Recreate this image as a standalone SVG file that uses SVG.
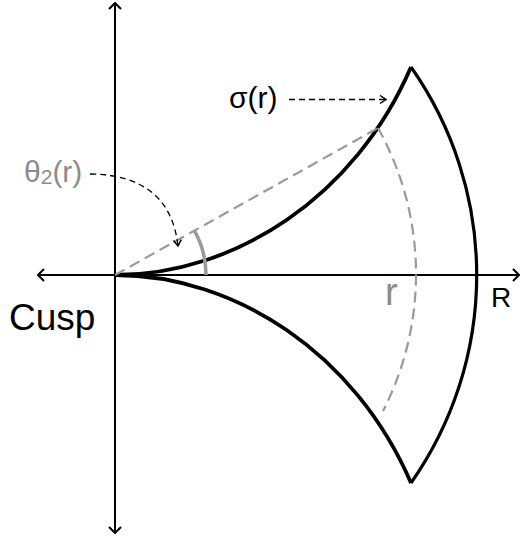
<svg xmlns="http://www.w3.org/2000/svg" width="521" height="537" viewBox="0 0 521 537">
<style>
.axis{stroke:#000;stroke-width:2;fill:none}
.curve{stroke:#000;stroke-width:3.8;fill:none;stroke-linejoin:miter}
.gdash{stroke:#9a9a9a;stroke-width:2.2;fill:none;stroke-dasharray:11 6}
.bdash{stroke:#000;stroke-width:1.3;fill:none;stroke-dasharray:6 4}
.lbl{font-family:"Liberation Sans",Arial,sans-serif;fill:#000}
.glbl{font-family:"Liberation Sans",Arial,sans-serif;fill:#8c8c8c}
</style>
<defs>
<marker id="open" viewBox="0 0 10 10" refX="9" refY="5" markerWidth="10" markerHeight="10" markerUnits="userSpaceOnUse" orient="auto">
<path d="M3,1 L9,5 L3,9" fill="none" stroke="#000" stroke-width="1.5"/>
</marker>
<marker id="axisarrow" viewBox="0 0 14 14" refX="13" refY="7" markerWidth="14" markerHeight="14" markerUnits="userSpaceOnUse" orient="auto">
<path d="M7,1 L13,7 L7,13" fill="none" stroke="#000" stroke-width="2"/>
</marker>
</defs>
<g id="axes">
<line class="axis" x1="115" y1="275" x2="115" y2="3" marker-end="url(#axisarrow)"/>
<line class="axis" x1="115" y1="275" x2="115" y2="533" marker-end="url(#axisarrow)"/>
<line class="axis" x1="115" y1="275" x2="38" y2="275" marker-end="url(#axisarrow)"/>
<line class="axis" x1="115" y1="275" x2="519" y2="275" marker-end="url(#axisarrow)"/>
</g>
<g id="region">
<path class="curve" d="M115,275 C235,275 355,197 411,67"/>
<path class="curve" d="M115,275 C235,275 355,353 411,483"/>
<path class="curve" style="stroke-width:3.2" d="M411,67 A362,362 0 0 1 411,483"/>
</g>
<g id="construction">
<line class="gdash" x1="115" y1="275" x2="378" y2="128"/>
<path class="gdash" d="M378,128 A300,300 0 0 1 383,411"/>
<path d="M194.4,230.6 A91,91 0 0 1 206,275" fill="none" stroke="#9a9a9a" stroke-width="3.5"/>
</g>
<g id="connectors">
<path class="bdash" d="M90,174 Q170,175 178,246" marker-end="url(#open)"/>
<line class="bdash" x1="289" y1="99.5" x2="386" y2="99.5" marker-end="url(#open)"/>
</g>
<g id="labels">
<text class="lbl" x="229" y="108" font-size="30">σ(r)</text>
<text class="glbl" x="24" y="182" font-size="30">θ<tspan font-size="21" dy="2">2</tspan><tspan dy="-2">(r)</tspan></text>
<text class="lbl" x="9" y="330" font-size="37">Cusp</text>
<text class="glbl" x="385" y="305" font-size="38">r</text>
<text class="lbl" x="491" y="307" font-size="28">R</text>
</g>
</svg>
